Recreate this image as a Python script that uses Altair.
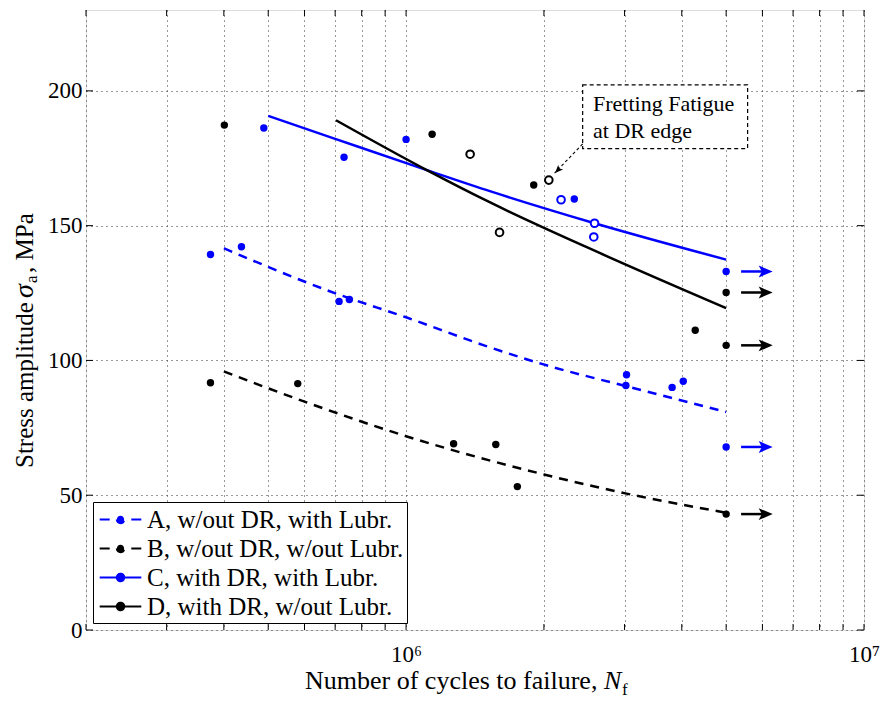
import altair as alt
import pandas as pd

FONT = "Liberation Serif"
SER = ["A, w/out DR, with Lubr.", "B, w/out DR, w/out Lubr.",
       "C, with DR, with Lubr.", "D, with DR, w/out Lubr."]
COLORS = ["#0000ff", "#000000", "#0000ff", "#000000"]

# fitted curves
fitA_N = [4.0e5, 7.06e5, 1.0e6, 1.48e6, 1.97e6, 3.03e6, 5.0e6]
fitA_S = [141.6, 124.7, 116.0, 105.6, 98.8, 90.4, 80.9]
fitB_N = [4.0e5, 5.96e5, 1.0e6, 2.0e6, 3.03e6, 5.0e6]
fitB_S = [95.9, 84.9, 71.9, 57.7, 50.6, 43.5]
fitC_N = [5.0e5, 7.0e5, 1.11e6, 1.53e6, 2.58e6, 5.0e6]
fitC_S = [190.7, 182.2, 170.6, 162.7, 150.9, 137.4]
fitD_N = [7.03e5, 1.11e6, 1.53e6, 2.58e6, 5.0e6]
fitD_S = [189.1, 170.6, 158.5, 140.7, 119.4]

# test points (filled)
A_N = [3.74e5, 4.37e5, 7.14e5, 7.52e5, 3.03e6, 3.02e6, 3.81e6, 4.03e6, 5.0e6]
A_S = [139.3, 142.2, 121.9, 122.6, 94.7, 90.7, 90.0, 92.3, 67.9]
B_N = [3.74e5, 5.8e5, 1.27e6, 1.57e6, 1.75e6, 5.0e6]
B_S = [91.7, 91.4, 69.1, 68.8, 53.2, 43.0]
C_N = [4.89e5, 7.32e5, 1.0e6, 2.33e6, 5.0e6]
C_S = [186.2, 175.4, 182.0, 159.9, 133.0]
D_N = [4.01e5, 1.14e6, 1.90e6, 4.28e6, 5.0e6, 5.0e6]
D_S = [187.3, 183.9, 165.1, 111.2, 125.2, 105.6]

# open symbols: fretting fatigue at DR edge
Co_N = [2.18e6, 2.58e6, 2.57e6]
Co_S = [159.6, 150.9, 145.8]
Do_N = [1.38e6, 1.60e6, 2.05e6]
Do_S = [176.5, 147.5, 166.9]

# run-outs (arrows)
run_series = [SER[2], SER[3], SER[3], SER[0], SER[1]]
run_S = [133.0, 125.2, 105.6, 67.9, 43.0]
arrow_N0 = 5.39e6
arrow_N1 = 6.1e6

# annotation
note_lines = ["Fretting Fatigue", "at DR edge"]
note_S = [192.6, 182.7]
note_N = 2.56e6
box_N = [2.43e6, 5.57e6]
box_S = [178.6, 202.2]
lead_N = [2.43e6, 2.11e6]
lead_S = [180.3, 169.5]
lead_head = (2.145e6, 170.6)

XT = [2e5, 3e5, 4e5, 5e5, 6e5, 7e5, 8e5, 9e5, 1e6, 2e6, 3e6, 4e6, 5e6,
      6e6, 7e6, 8e6, 9e6, 1e7]
YT = [0, 50, 100, 150, 200]

W, H = 778, 620

fitsAB = pd.concat([
    pd.DataFrame({"series": SER[0], "N": fitA_N, "S": fitA_S}),
    pd.DataFrame({"series": SER[1], "N": fitB_N, "S": fitB_S}),
])
fitsCD = pd.concat([
    pd.DataFrame({"series": SER[2], "N": fitC_N, "S": fitC_S}),
    pd.DataFrame({"series": SER[3], "N": fitD_N, "S": fitD_S}),
])
pts = pd.concat([
    pd.DataFrame({"series": SER[0], "N": A_N, "S": A_S}),
    pd.DataFrame({"series": SER[1], "N": B_N, "S": B_S}),
    pd.DataFrame({"series": SER[2], "N": C_N, "S": C_S}),
    pd.DataFrame({"series": SER[3], "N": D_N, "S": D_S}),
])
opn = pd.concat([
    pd.DataFrame({"series": SER[2], "N": Co_N, "S": Co_S}),
    pd.DataFrame({"series": SER[3], "N": Do_N, "S": Do_S}),
])
runs = pd.DataFrame({"series": run_series, "S": run_S, "N0": arrow_N0, "N1": arrow_N1})
# legend-only entries, placed outside the (clipped) plot domain
legend_rows = pd.DataFrame({"series": SER, "N": 1e6, "S": -100.0})

SYM = "M-1.6,0L1.6,0M-0.28,0A0.28,0.28,0,1,0,0.28,0A0.28,0.28,0,1,0,-0.28,0Z"
leg = alt.Legend(
    title=None, orient="none", legendX=7, legendY=492,
    symbolType=SYM, symbolSize=676, symbolStrokeWidth=2.2,
    labelFont=FONT, labelFontSize=25, labelColor="black", labelLimit=500,
    labelOffset=12, symbolOffset=10, padding=3, rowPadding=1,
    strokeColor="black", fillColor="white",
)

xs = alt.Scale(type="log", domain=[2e5, 1e7])
ys = alt.Scale(domain=[0, 230])
cs = alt.Scale(domain=SER, range=COLORS)

xaxis = alt.Axis(values=XT, title=None, grid=True, ticks=False, domain=False,
                 labelExpr="datum.value == 1000000 ? '10⁶' : (datum.value == 10000000 ? '10⁷' : '')",
                 labelFont=FONT, labelFontSize=23, labelColor="black", labelPadding=13,
                 labelOverlap=False, labelFlush=False, labelBound=False,
                 gridDash=[1, 4], gridColor="#333333", gridWidth=1)
yaxis = alt.Axis(values=YT, title=None, grid=True, ticks=False, domain=False,
                 labelFont=FONT, labelFontSize=23, labelColor="black", labelPadding=4,
                 gridDash=[1, 4], gridColor="#333333", gridWidth=1)

X = alt.X("N:Q", scale=xs, axis=xaxis)
Y = alt.Y("S:Q", scale=ys, axis=yaxis)
C = alt.Color("series:N", scale=cs, legend=None)

legend_proxy = alt.Chart(legend_rows).mark_point(
    shape=SYM, size=676, filled=True, opacity=1, strokeWidth=2.2, clip=True).encode(
    x=alt.X("N:Q", scale=xs), y=alt.Y("S:Q", scale=ys),
    fill=alt.Fill("series:N", scale=alt.Scale(domain=SER, range=COLORS), legend=leg),
    stroke=alt.Stroke("series:N", scale=alt.Scale(domain=SER, range=COLORS), legend=leg),
    strokeDash=alt.StrokeDash("series:N", scale=alt.Scale(domain=SER, range=[[10, 21.6], [10, 21.6], [1, 0], [1, 0]]), legend=leg),
)

lines_dash = alt.Chart(fitsAB).mark_line(strokeWidth=2.5, strokeDash=[9, 7], interpolate="monotone").encode(
    x=X, y=Y, color=C, detail="series:N")
lines_solid = alt.Chart(fitsCD).mark_line(strokeWidth=2.5, interpolate="monotone").encode(
    x=X, y=Y, color=C, detail="series:N")
filled = alt.Chart(pts).mark_circle(size=55, opacity=1).encode(x=X, y=Y, color=C)
opened = alt.Chart(opn).mark_point(filled=False, size=58, strokeWidth=2, opacity=1, fill="white").encode(x=X, y=Y, color=C)

arrow_shaft = alt.Chart(runs).mark_rule(strokeWidth=2.5).encode(
    x=alt.X("N0:Q", scale=xs), x2="N1:Q", y=alt.Y("S:Q", scale=ys), color=C)
HEAD = "M-1,-0.85L1,0L-1,0.85L-0.55,0Z"
arrow_head = alt.Chart(runs).mark_point(shape=HEAD, size=196, filled=True, opacity=1, strokeWidth=0).encode(
    x=alt.X("N1:Q", scale=xs), y=alt.Y("S:Q", scale=ys), color=C)

box = alt.Chart(pd.DataFrame({"N0": [box_N[0]], "N1": [box_N[1]], "S0": [box_S[0]], "S1": [box_S[1]]})).mark_rect(
    fill="white", stroke="black", strokeDash=[4, 3], strokeWidth=1.2).encode(
    x=alt.X("N0:Q", scale=xs), x2="N1:Q", y=alt.Y("S0:Q", scale=ys), y2="S1:Q")
note = alt.Chart(pd.DataFrame({"t": note_lines, "S": note_S, "N": note_N})).mark_text(
    font=FONT, fontSize=22, align="left", baseline="alphabetic", color="black").encode(
    x=alt.X("N:Q", scale=xs), y=alt.Y("S:Q", scale=ys), text="t:N")
lead = alt.Chart(pd.DataFrame({"N": lead_N, "S": lead_S, "o": [0, 1]})).mark_line(
    strokeDash=[3, 2.5], strokeWidth=1.1, color="black").encode(
    x=alt.X("N:Q", scale=xs), y=alt.Y("S:Q", scale=ys), order="o:Q")
lead_tip = alt.Chart(pd.DataFrame({"N": [lead_head[0]], "S": [lead_head[1]]})).mark_point(
    shape=HEAD, size=64, filled=True, opacity=1, color="black", angle=134, strokeWidth=0).encode(
    x=alt.X("N:Q", scale=xs), y=alt.Y("S:Q", scale=ys))

# inward ticks on all four sides
yt = pd.DataFrame({"v": YT})
xt = pd.DataFrame({"v": XT})
tick_style = dict(color="black", strokeWidth=1)
tl = alt.Chart(yt).mark_rule(**tick_style).encode(y=alt.Y("v:Q", scale=ys), x=alt.value(0), x2=alt.value(7))
tr = alt.Chart(yt).mark_rule(**tick_style).encode(y=alt.Y("v:Q", scale=ys), x=alt.value(W), x2=alt.value(W - 7))
tb = alt.Chart(xt).mark_rule(**tick_style).encode(x=alt.X("v:Q", scale=xs), y=alt.value(H), y2=alt.value(H - 6))
tt = alt.Chart(xt).mark_rule(**tick_style).encode(x=alt.X("v:Q", scale=xs), y=alt.value(0), y2=alt.value(6))

one = pd.DataFrame({"k": [0]})
def label(txt, x, y, size=26, italic=False, angle=0):
    kw = dict(font=FONT, fontSize=size, align="left", baseline="alphabetic", color="black", angle=angle)
    if italic:
        kw["fontStyle"] = "italic"
    return alt.Chart(one).mark_text(**kw).encode(x=alt.value(x), y=alt.value(y), text=alt.value(txt))

titles = [
    label("Number of cycles to failure,", 219, 679),
    label("N", 518, 679, italic=True),
    label("f", 536, 685, size=17),
    label("Stress amplitude", -53, 458, size=25, angle=270),
    label("σ", -53, 288, size=28, italic=True, angle=270),
    label("a", -49, 273, size=17, angle=270),
    label(", MPa", -53, 263, size=25, angle=270),
]

chart = alt.layer(
    legend_proxy, tl, tr, tb, tt, lines_dash, lines_solid, filled, opened, arrow_shaft, arrow_head,
    box, note, lead, lead_tip, *titles
).properties(
    width=W, height=H,
    padding={"left": 86, "top": 10, "right": 16, "bottom": 74},
    autosize=alt.AutoSizeParams(type="none"),
).configure_view(stroke="black", strokeWidth=1.3).configure(background="white")

chart.save("out.html", embed_options={"renderer": "svg", "actions": False})
